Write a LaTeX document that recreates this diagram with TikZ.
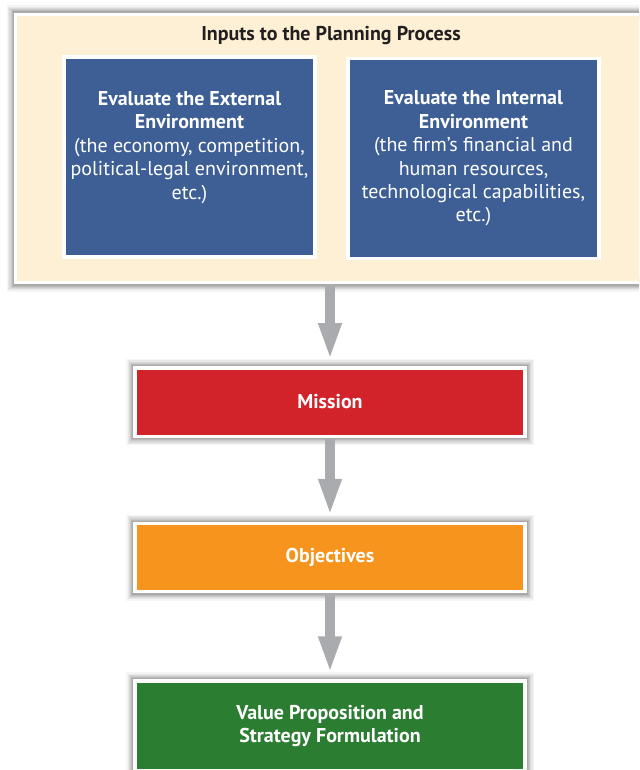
\documentclass[tikz,border=0pt]{standalone}
\usepackage{fontspec}
\setmainfont{PT Sans}
\usetikzlibrary{arrows.meta}
\definecolor{creamfill}{HTML}{FDF0D5}
\definecolor{bluefill}{HTML}{3D5F96}
\definecolor{redfill}{HTML}{D2232A}
\definecolor{orangefill}{HTML}{F7941D}
\definecolor{greenfill}{HTML}{2B7D32}
\definecolor{arrowgray}{HTML}{A9ABAE}
\definecolor{titletext}{HTML}{231F20}
\tikzset{
  softshadow/.style={
    preaction={draw=black, draw opacity=0.04, line width=18pt},
    preaction={draw=black, draw opacity=0.05, line width=15pt},
    preaction={draw=black, draw opacity=0.06, line width=12.5pt},
    preaction={draw=black, draw opacity=0.07, line width=10pt},
    preaction={draw=black, draw opacity=0.08, line width=8pt},
    preaction={draw=black, draw opacity=0.09, line width=6pt}},
  inputbox/.style={draw=white, line width=3pt, fill=creamfill, softshadow},
  envbox/.style={draw=white, line width=3.5pt, fill=bluefill, text=white, align=center,
    minimum width=251pt, minimum height=200pt, inner sep=0pt,
    font=\fontsize{20}{23.4}\selectfont},
  stagebox/.style={draw=white, line width=3.5pt, text=white, align=center,
    minimum width=390pt, inner sep=0pt, softshadow,
    font=\fontsize{20}{23.4}\selectfont\bfseries},
  flowarrow/.style={draw=arrowgray, line width=10pt,
    -{Triangle[width=21pt,length=37pt]}, shorten >=6pt}
}
\begin{document}
\begin{tikzpicture}[x=1pt,y=1pt]
\useasboundingbox (0,0) rectangle (639,-770);
\clip (0,0) rectangle (639,-770);
\fill[white] (0,0) rectangle (639,-770);
% outer input box
\node (inputs) [inputbox, minimum width=644.5pt, minimum height=268pt] at (337.75,-148.5) {};
\node (title) [text=titletext, font=\fontsize{20}{23.4}\selectfont\bfseries] at (331,-36) {Inputs to the Planning Process};
\node (external) [envbox] at (189.5,-157) {\textbf{Evaluate the External}\\\textbf{Environment}\\(the economy, competition,\\political-legal environment,\\etc.)\\\mbox{}};
\node (internal) [envbox] at (473.5,-158.5) {\textbf{Evaluate the Internal}\\\textbf{Environment}\\(the firm’s financial and\\human resources,\\technological capabilities,\\etc.)};
% stages
\node (mission) [stagebox, fill=redfill, minimum height=68.5pt] at (330,-402) {Mission};
\node (objectives) [stagebox, fill=orangefill, minimum height=68pt] at (330,-557.5) {Objectives};
\node (value) [stagebox, fill=greenfill, minimum height=90pt] at (330,-726) {Value Proposition and\\Strategy Formulation};
% arrows
\draw[flowarrow] (mission.north |- inputs.south) -- (mission.north);
\draw[flowarrow] (mission.south) -- (objectives.north);
\draw[flowarrow] (objectives.south) -- (value.north);
\end{tikzpicture}
\end{document}
